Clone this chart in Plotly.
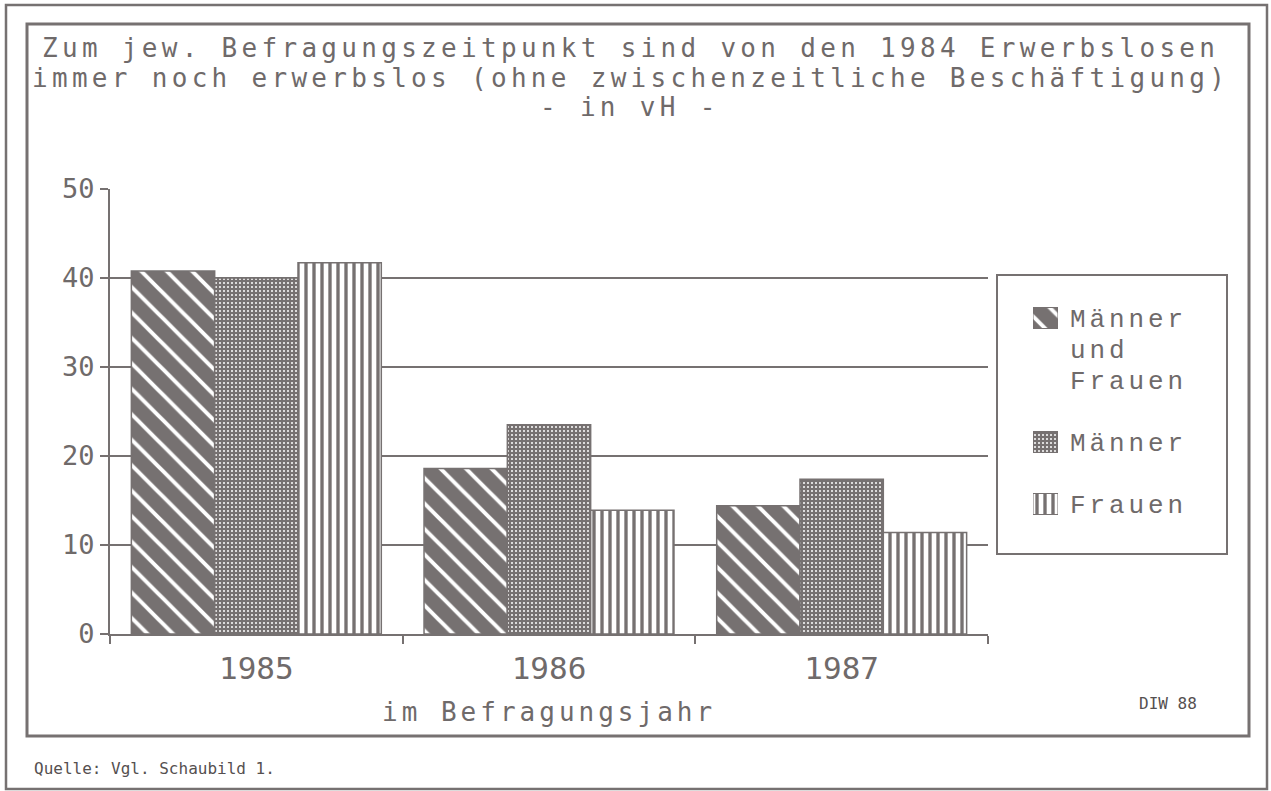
import plotly.graph_objects as go

# ---------------- data ----------------
years = ["1985", "1986", "1987"]
maenner_und_frauen = [40.8, 18.6, 14.4]
maenner = [40.0, 23.5, 17.4]
frauen = [41.7, 13.9, 11.4]
series_names = ["Männer und Frauen", "Männer", "Frauen"]
y_tickvals = [0, 10, 20, 30, 40, 50]
y_ticktext = ["0", "10", "20", "30", "40", "50"]
title_lines = [
    "Zum jew. Befragungszeitpunkt sind von den 1984 Erwerbslosen",
    "immer noch erwerbslos (ohne zwischenzeitliche Beschäftigung)",
    "- in vH -",
]
legend_lines = [["Männer", "und", "Frauen"], ["Männer"], ["Frauen"]]
x_title = "im Befragungsjahr"
source_text = "Quelle: Vgl. Schaubild 1."
credit_text = "DIW 88"

# ---------------- layout helpers ----------------
GRAY = "#767171"
TXT = "#6f6a6a"
MONO = "DejaVu Sans Mono"
W, H = 1271, 791
L, R, T, B = 110, 20, 189, 157
PW, PH = W - L - R, H - T - B


def px(x):
    return (x - L) / PW


def py(y):
    return (H - B - y) / PH


def spaced(text, ls):
    return '<span style="letter-spacing:%.1fpx">%s</span>' % (ls, text)


patterns = [
    dict(shape="\\", fgcolor="white", bgcolor=GRAY, size=18, solidity=0.22, fillmode="replace"),
    dict(shape=".", fgcolor="white", bgcolor=GRAY, size=4, solidity=0.2, fillmode="replace"),
    dict(shape="|", fgcolor=GRAY, bgcolor="white", size=8, solidity=0.42, fillmode="replace"),
]
series_values = [maenner_und_frauen, maenner, frauen]

fig = go.Figure()
for name, vals, pat in zip(series_names, series_values, patterns):
    fig.add_trace(go.Bar(
        x=years, y=vals, name=name, showlegend=False,
        marker=dict(color=GRAY, pattern=pat, line=dict(color=GRAY, width=1.5)),
        hoverinfo="x+y+name",
    ))

# legend swatches drawn as tiny bars on a hidden helper axis (pixel-like units)
LEGEND_SWATCH_Y = [318, 442, 504]
for name, pat, sy in zip(series_names, patterns, LEGEND_SWATCH_Y):
    fig.add_trace(go.Bar(
        x=[1], y=[sy], base=0, orientation="h", width=21, offset=-10.5,
        xaxis="x2", yaxis="y2", showlegend=False, hoverinfo="skip",
        marker=dict(color=GRAY, pattern=pat, line=dict(color=GRAY, width=1)),
    ))

annotations = []
TITLE_Y = [48, 78, 107]
for line, ty in zip(title_lines, TITLE_Y):
    annotations.append(dict(text=spaced(line, 4.3), x=px(630), y=py(ty), xref="paper", yref="paper",
                            xanchor="center", yanchor="middle", showarrow=False,
                            font=dict(family=MONO, size=26, color=TXT)))

LEGEND_TEXT_Y = [[320, 351, 382], [444], [506]]
for lines, ys in zip(legend_lines, LEGEND_TEXT_Y):
    for t, ly in zip(lines, ys):
        annotations.append(dict(text=spaced(t, 3.9), x=px(1068), y=py(ly), xref="paper", yref="paper",
                                xanchor="left", yanchor="middle", showarrow=False,
                                font=dict(family="Liberation Mono", size=26, color=TXT)))

annotations.append(dict(text=spaced(x_title, 4.0), x=0.5, y=py(712), xref="x domain", yref="paper",
                        xanchor="center", yanchor="middle", showarrow=False,
                        font=dict(family=MONO, size=26, color=TXT)))
annotations.append(dict(text=source_text, x=px(32), y=py(768), xref="paper", yref="paper",
                        xanchor="left", yanchor="middle", showarrow=False,
                        font=dict(family=MONO, size=16, color="#555050")))
annotations.append(dict(text=credit_text, x=px(1137), y=py(703), xref="paper", yref="paper",
                        xanchor="left", yanchor="middle", showarrow=False,
                        font=dict(family=MONO, size=16, color="#555050")))

shapes = [
    dict(type="rect", xref="paper", yref="paper", x0=px(6), x1=px(1267), y0=py(789), y1=py(5),
         line=dict(color=GRAY, width=2.5)),
    dict(type="rect", xref="paper", yref="paper", x0=px(27), x1=px(1249), y0=py(736), y1=py(24),
         line=dict(color=GRAY, width=3)),
    dict(type="rect", xref="paper", yref="paper", x0=px(997), x1=px(1227), y0=py(554), y1=py(275),
         line=dict(color=GRAY, width=2)),
]

fig.update_layout(
    width=W, height=H,
    margin=dict(l=L, r=R, t=T, b=B, pad=0),
    paper_bgcolor="white", plot_bgcolor="white",
    barmode="group", bargap=0.146, bargroupgap=0,
    showlegend=False,
    annotations=annotations, shapes=shapes,
    xaxis=dict(domain=[0, px(988)], type="category", range=[-0.5, 2.5],
               tickson="boundaries", ticks="outside", ticklen=8, tickwidth=2, tickcolor=GRAY,
               showline=True, linecolor=GRAY, linewidth=2, showgrid=False,
               tickfont=dict(family=MONO, size=31, color=TXT), ticklabelstandoff=6),
    yaxis=dict(range=[0, 50], tickvals=y_tickvals, ticktext=y_ticktext,
               ticks="outside", ticklen=8, tickwidth=2, tickcolor=GRAY,
               showline=True, linecolor=GRAY, linewidth=2,
               showgrid=True, gridcolor=GRAY, gridwidth=2, zeroline=False,
               tickfont=dict(family=MONO, size=27, color=TXT)),
    xaxis2=dict(domain=[px(1033), px(1058)], range=[0, 1], visible=False, anchor="y2",
                fixedrange=True),
    yaxis2=dict(domain=[0, 1], range=[634, 189], visible=False, anchor="x2", fixedrange=True),
)

fig.write_html("out.html", config={"displayModeBar": False},
               post_script="document.body.style.margin='0';")
